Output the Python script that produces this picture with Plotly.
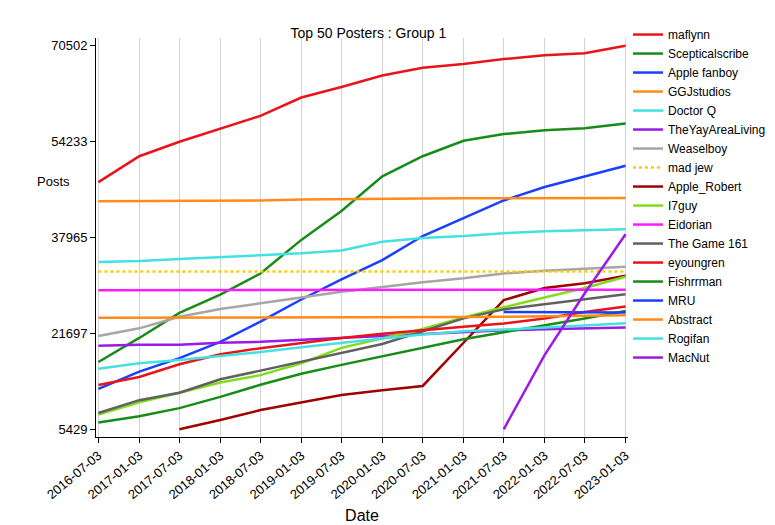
import plotly.graph_objects as go

dates = ["2016-07-03","2017-01-03","2017-07-03","2018-01-03","2018-07-03","2019-01-03","2019-07-03",
         "2020-01-03","2020-07-03","2021-01-03","2021-07-03","2022-01-03","2022-07-03","2023-01-03"]

maflynn = [47346,51749,54195,56479,58600,61699,63493,65450,66755,67407,68223,68875,69201,70502]
scepticalscribe = [16846,20924,25164,28263,31851,37560,42453,48324,51749,54359,55500,56153,56479,57295]
apple_fanboy = [12279,15215,17498,20271,23696,27448,30873,34135,38212,41311,44247,46531,48324,50118]
ggjstudios = [44100,44120,44150,44200,44250,44400,44500,44550,44580,44620,44650,44660,44670,44680]
doctor_q = [33808,33971,34298,34624,34950,35276,35766,37234,37887,38212,38702,39028,39191,39354]
yayarea = [19619,19782,19782,20108,20271,20597,20923,21249,21575,21902,22228,22391,22554,22717]
weaselboy = [21250,22554,24512,25817,26795,27774,28753,29568,30384,31036,31851,32341,32667,32993]
mad_jew = [32200]*14
apple_robert = [None,None,5429,6994,8690,9995,11245,12061,12778,20108,27333,29405,30221,31476]
i7guy = [7935,9995,11627,13367,14616,16632,19239,20814,22445,24404,26142,27774,29405,31312]
eidorian = [29025,29030,29035,29040,29045,29050,29055,29060,29065,29070,29080,29090,29100,29120]
game161 = [8202,10370,11627,13910,15378,16903,18424,19896,22065,24241,25767,26686,27504,28317]
eyoungren = [12932,14290,16469,18152,19190,20108,20923,21641,22283,22835,23372,24241,25327,26258]
fishrrman = [6571,7658,9017,10925,12981,14840,16357,17825,19293,20706,21902,23043,24241,25490]
mru = [None]*10 + [25330,25330,25300,25250]
abstract = [24349,24349,24360,24370,24380,24390,24400,24420,24440,24470,24520,24600,24700,24790]
rogifan = [15704,16632,17172,17825,18526,19342,20108,20814,21521,22065,22337,22717,23043,23422]
macnut = [None]*10 + [5429,18000,28500,38500]

series = [
    ("maflynn", maflynn, "#e8141a", "solid"),
    ("Scepticalscribe", scepticalscribe, "#178c17", "solid"),
    ("Apple fanboy", apple_fanboy, "#1a40ff", "solid"),
    ("GGJstudios", ggjstudios, "#ff8c1a", "solid"),
    ("Doctor Q", doctor_q, "#45e0e0", "solid"),
    ("TheYayAreaLiving", yayarea, "#9a1ae6", "solid"),
    ("Weaselboy", weaselboy, "#a6a6a6", "solid"),
    ("mad jew", mad_jew, "#ffcc00", "dot"),
    ("Apple_Robert", apple_robert, "#a00000", "solid"),
    ("I7guy", i7guy, "#80dd1a", "solid"),
    ("Eidorian", eidorian, "#ff1aff", "solid"),
    ("The Game 161", game161, "#606060", "solid"),
    ("eyoungren", eyoungren, "#e8141a", "solid"),
    ("Fishrrman", fishrrman, "#178c17", "solid"),
    ("MRU", mru, "#1a40ff", "solid"),
    ("Abstract", abstract, "#ff8c1a", "solid"),
    ("Rogifan", rogifan, "#45e0e0", "solid"),
    ("MacNut", macnut, "#9a1ae6", "solid"),
]

yticks = [5429, 21697, 37965, 54233, 70502]

fig = go.Figure()
for name, vals, col, dash in series:
    fig.add_trace(go.Scatter(x=dates, y=vals, name=name, mode="lines",
                             line=dict(color=col, width=2.5, dash=dash)))

fig.update_layout(
    width=775, height=525,
    font=dict(family="Liberation Sans, Arial", size=13, color="black"),
    plot_bgcolor="white", paper_bgcolor="white",
    margin=dict(l=88, r=140, t=30, b=80),
    title=dict(text="Top 50 Posters : Group 1", x=0.465, y=0.962, xanchor="center", font=dict(size=14)),
    legend=dict(x=1.0, y=1.045, yanchor="top", font=dict(size=12), tracegroupgap=0,
                itemwidth=30, bgcolor="rgba(0,0,0,0)", maxheight=500),
    xaxis=dict(type="date", range=["2016-06-22", "2023-01-14"], tickvals=dates, ticktext=dates,
               tickangle=-40, showgrid=True, gridcolor="#d3d3d3", showline=True, linecolor="black",
               ticks="outside", ticklen=5, tickcolor="black", zeroline=False,
               title=dict(text="Date", standoff=8)),
    yaxis=dict(range=[4124, 71800], tickvals=yticks, ticktext=[str(t) for t in yticks],
               showgrid=False, showline=True, linecolor="black", ticks="outside", ticklen=5,
               tickcolor="black", zeroline=False),
    annotations=[dict(text="Posts", xref="paper", yref="paper", x=-0.115, y=0.64,
                      showarrow=False, xanchor="left", font=dict(size=13))],
)

fig.write_html("out.html")
